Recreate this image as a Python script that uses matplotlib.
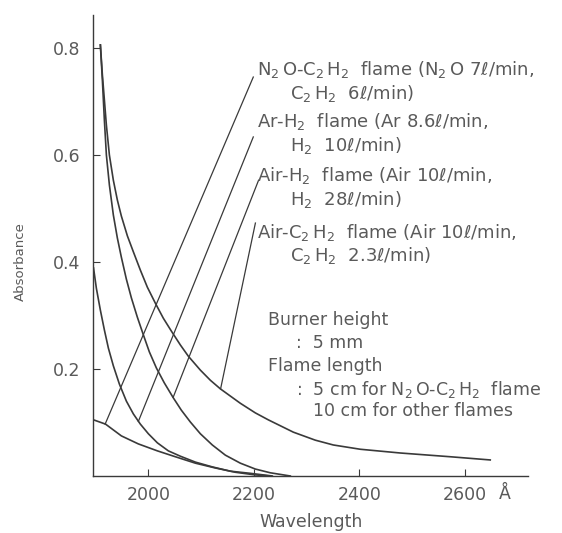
import numpy as np
import matplotlib.pyplot as plt

# wavelength (Å) / absorbance
wl_air_c2h2 = [1909.0, 1912.8, 1916.6, 1920.4, 1926.1, 1933.6, 1941.2, 1948.8, 1960.2, 1971.6,
               1984.8, 1998.1, 2013.3, 2028.4, 2043.6, 2060.7, 2075.8, 2098.6, 2117.6, 2136.5,
               2174.4, 2202.9, 2227.5, 2274.9, 2316.6, 2350.8, 2402.0, 2477.8, 2572.6, 2648.4]
ab_air_c2h2 = [0.806, 0.750, 0.703, 0.656, 0.600, 0.553, 0.516, 0.486, 0.449, 0.419,
               0.385, 0.353, 0.323, 0.295, 0.271, 0.245, 0.224, 0.198, 0.179, 0.163,
               0.136, 0.118, 0.105, 0.082, 0.067, 0.058, 0.050, 0.043, 0.036, 0.030]

wl_air_h2 = [1909.0, 1912.8, 1916.6, 1920.4, 1926.1, 1933.6, 1941.2, 1948.8, 1958.3, 1967.8,
             1979.1, 1990.5, 2001.9, 2015.2, 2030.3, 2047.4, 2062.6, 2079.6, 2098.6, 2121.3,
             2146.0, 2174.4, 2202.9, 2231.3, 2269.2]
ab_air_h2 = [0.806, 0.740, 0.665, 0.600, 0.544, 0.488, 0.445, 0.409, 0.368, 0.333,
             0.297, 0.264, 0.232, 0.202, 0.174, 0.146, 0.123, 0.101, 0.079, 0.058,
             0.039, 0.024, 0.013, 0.006, 0.0]

wl_ar_h2 = [1896.0, 1901.4, 1909.0, 1916.6, 1924.2, 1933.6, 1945.0, 1958.3, 1971.6, 1984.8,
            2000.0, 2017.1, 2037.9, 2060.7, 2089.1, 2121.3, 2155.5, 2193.4, 2235.1]
ab_ar_h2 = [0.389, 0.351, 0.310, 0.273, 0.239, 0.206, 0.172, 0.140, 0.116, 0.097,
            0.079, 0.062, 0.047, 0.037, 0.026, 0.017, 0.009, 0.005, 0.0]

wl_n2o = [1896.0, 1918.8, 1948.8, 1981.0, 2017.1, 2051.2, 2089.1, 2127.0, 2165.0, 2202.9, 2231.3]
ab_n2o = [0.105, 0.097, 0.075, 0.060, 0.047, 0.036, 0.024, 0.015, 0.007, 0.002, 0.0]

# leader lines: (label end) -> (curve end)
leaders = [((2199, 0.746), (1918, 0.097)),
           ((2199, 0.634), (1981, 0.102)),
           ((2209, 0.553), (2047, 0.147)),
           ((2203, 0.473), (2137, 0.163))]

labels = [(r"N$_2\,$O-C$_2\,$H$_2$  flame (N$_2\,$O 7ℓ/min,", r"C$_2\,$H$_2$  6ℓ/min)"),
          (r"Ar-H$_2$  flame (Ar 8.6ℓ/min,", r"H$_2$  10ℓ/min)"),
          (r"Air-H$_2$  flame (Air 10ℓ/min,", r"H$_2$  28ℓ/min)"),
          (r"Air-C$_2\,$H$_2$  flame (Air 10ℓ/min,", r"C$_2\,$H$_2$  2.3ℓ/min)")]

xticks = [2000, 2200, 2400, 2600]
yticks = [0.2, 0.4, 0.6, 0.8]

lc = '#3a3a3a'
tc = '#5a5a5a'

fig = plt.figure(figsize=(5.62, 5.33), dpi=100)
ax = fig.add_axes([93/562, 57/533, 435/562, 461/533])

for wl, ab in [(wl_air_c2h2, ab_air_c2h2), (wl_air_h2, ab_air_h2),
               (wl_ar_h2, ab_ar_h2), (wl_n2o, ab_n2o)]:
    ax.plot(wl, ab, color=lc, lw=1.2)

for (x0, y0), (x1, y1) in leaders:
    ax.plot([x0, x1], [y0, y1], color=lc, lw=0.9)

ax.set_xlim(1895, 2720)
ax.set_ylim(0, 0.862)
ax.spines['top'].set_visible(False)
ax.spines['right'].set_visible(False)
for s in ['left', 'bottom']:
    ax.spines[s].set_color(lc)
    ax.spines[s].set_linewidth(1.0)
ax.set_xticks(xticks)
ax.set_xticklabels([str(t) for t in xticks])
ax.set_yticks(yticks)
ax.set_yticklabels([f"{t:.1f}" for t in yticks])
ax.tick_params(direction='in', length=5, color=lc, labelcolor=tc, labelsize=12.5, pad=7)
ax.tick_params(axis='y', pad=9)
ax.text(2664, -0.043, "Å", color=tc, fontsize=12.5, ha='left', va='baseline')

fig.text(311/562, 1 - 522/533, "Wavelength", color=tc, fontsize=12.5, ha='center', va='center')
fig.text(20/562, 1 - 262/533, "Absorbance", color=tc, fontsize=9.5, ha='center', va='center', rotation=90)

ys = [70, 122, 176, 232]
for (l1, l2), y in zip(labels, ys):
    fig.text(257/562, 1 - y/533, l1, color=tc, fontsize=13, ha='left', va='center')
    fig.text(290/562, 1 - (y + 23)/533, l2, color=tc, fontsize=13, ha='left', va='center')

notes = [(268, 320, "Burner height"),
         (296, 343, ":  5 mm"),
         (268, 366, "Flame length"),
         (296, 389, r":  5 cm for N$_2\,$O-C$_2\,$H$_2$  flame"),
         (313, 411, "10 cm for other flames")]
for x, y, s in notes:
    fig.text(x/562, 1 - y/533, s, color=tc, fontsize=12.5, ha='left', va='center')

fig.savefig('out.png', dpi=100)
